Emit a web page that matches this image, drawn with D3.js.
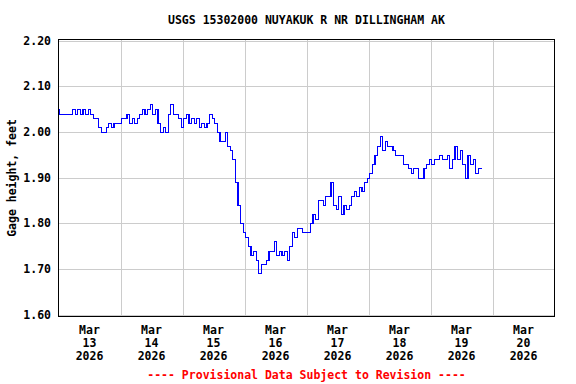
<!DOCTYPE html>
<html lang="en">
<head>
  <meta charset="UTF-8" />
  <title>USGS 15302000 NUYAKUK R NR DILLINGHAM AK</title>
  <style>
    body { margin: 0; background: #fff; }
    svg text {
      font-family: "DejaVu Sans Mono", "Liberation Mono", monospace;
      font-weight: bold;
      font-size: 11.5px;
    }
  </style>
</head>
<body>
  <div id="chart"></div>

  <script src="https://d3js.org/d3.v7.min.js"></script>
  <script>
    // gage height, feet - hourly readings from Mar 13 00:00
    const mar13 = [2.05,2.04,2.04,2.04,2.04,2.04,2.05,2.04,2.05,2.04,2.05,2.04,2.05,2.04,2.03,2.03,2.01,2.00,2.00,2.01,2.02,2.01,2.02,2.02];
    const mar14 = [2.02,2.03,2.03,2.04,2.02,2.03,2.02,2.03,2.04,2.05,2.04,2.05,2.06,2.04,2.05,2.02,2.00,2.01,2.00,2.04,2.06,2.04,2.04,2.03];
    const mar15 = [2.01,2.03,2.04,2.02,2.03,2.02,2.03,2.01,2.02,2.01,2.02,2.04,2.03,2.02,2.00,1.98,1.98,2.00,1.97,1.96,1.94,1.89,1.84,1.80];
    const mar16 = [1.78,1.77,1.75,1.73,1.74,1.72,1.69,1.71,1.71,1.72,1.74,1.74,1.76,1.73,1.74,1.73,1.74,1.72,1.75,1.78,1.77,1.79,1.79,1.78];
    const mar17 = [1.78,1.78,1.80,1.82,1.81,1.85,1.85,1.84,1.86,1.86,1.89,1.84,1.83,1.86,1.82,1.84,1.83,1.84,1.86,1.87,1.86,1.88,1.87,1.89];
    const mar18 = [1.90,1.91,1.93,1.95,1.97,1.99,1.96,1.98,1.97,1.97,1.96,1.95,1.95,1.95,1.93,1.93,1.92,1.91,1.92,1.92,1.90,1.90,1.92,1.93];
    const mar19 = [1.94,1.93,1.94,1.94,1.95,1.94,1.94,1.95,1.92,1.94,1.97,1.94,1.96,1.93,1.90,1.95,1.93,1.94,1.91,1.92,1.92];

    const dayLabels = ['13', '14', '15', '16', '17', '18', '19', '20'];
    const monthLabel = 'Mar';
    const yearLabel = '2026';
    const yTicks = [1.60, 1.70, 1.80, 1.90, 2.00, 2.10, 2.20];

    const title = 'USGS 15302000 NUYAKUK R NR DILLINGHAM AK';
    const yTitle = 'Gage height, feet';
    const footer = '---- Provisional Data Subject to Revision ----';

    const width = 576;
    const height = 384;
    const plotL = 58.5, plotR = 554.5, plotT = 39.5, plotB = 316.5;

    const start = Date.UTC(2026, 2, 13);
    const hour = 3600 * 1000;
    const end = start + 8 * 24 * hour;
    const values = [].concat(mar13, mar14, mar15, mar16, mar17, mar18, mar19);
    const data = values.map((v, i) => ({ t: new Date(start + i * hour), v }));

    const x = d3.scaleUtc()
      .domain([new Date(start), new Date(end)])
      .range([plotL, plotR]);
    const y = d3.scaleLinear()
      .domain([1.60, 2.20])
      .range([314.5, 40.5]);

    const svg = d3.select('#chart')
      .append('svg')
      .attr('width', width)
      .attr('height', height);

    // grid
    const dayBounds = d3.utcDay.range(new Date(start + hour), new Date(end));
    svg.append('g')
      .attr('shape-rendering', 'crispEdges')
      .selectAll('line')
      .data(dayBounds)
      .join('line')
      .attr('x1', d => Math.round(x(d)) + 0.5)
      .attr('x2', d => Math.round(x(d)) + 0.5)
      .attr('y1', plotT)
      .attr('y2', plotB)
      .attr('stroke', '#cccccc');

    svg.append('g')
      .attr('shape-rendering', 'crispEdges')
      .selectAll('line')
      .data(yTicks)
      .join('line')
      .attr('x1', plotL)
      .attr('x2', plotR)
      .attr('y1', d => Math.round(y(d)) + 0.5)
      .attr('y2', d => Math.round(y(d)) + 0.5)
      .attr('stroke', '#cccccc');

    // data line, stepped like the quantized 0.01 ft record
    const line = d3.line()
      .curve(d3.curveStep)
      .x(d => x(d.t))
      .y(d => Math.round(y(d.v)) + 0.5);

    svg.append('path')
      .datum(data)
      .attr('d', line)
      .attr('fill', 'none')
      .attr('stroke', '#0000ff')
      .attr('stroke-width', 1.2)
      .attr('shape-rendering', 'crispEdges');

    // frame
    svg.append('rect')
      .attr('x', plotL)
      .attr('y', plotT)
      .attr('width', plotR - plotL)
      .attr('height', plotB - plotT)
      .attr('fill', 'none')
      .attr('stroke', '#000')
      .attr('shape-rendering', 'crispEdges');

    // y tick labels
    svg.append('g')
      .selectAll('text')
      .data(yTicks)
      .join('text')
      .attr('x', 51)
      .attr('y', d => y(d))
      .attr('dy', '0.35em')
      .attr('text-anchor', 'end')
      .text(d3.format('.2f'));

    // x tick labels (centered on each day)
    const days = d3.utcDay.range(new Date(start), new Date(end));
    const mid = d => x(d3.utcHour.offset(d, 12));
    const xl = svg.append('g')
      .selectAll('text')
      .data(days)
      .join('text')
      .attr('text-anchor', 'middle');
    xl.append('tspan').attr('x', mid).attr('y', 334).text(monthLabel);
    xl.append('tspan').attr('x', mid).attr('y', 347).text((d, i) => dayLabels[i]);
    xl.append('tspan').attr('x', mid).attr('y', 360).text(yearLabel);

    // titles
    svg.append('text')
      .attr('x', (plotL + plotR) / 2)
      .attr('y', 24)
      .attr('text-anchor', 'middle')
      .text(title);

    svg.append('text')
      .attr('transform', `translate(16,${(plotT + plotB) / 2}) rotate(-90)`)
      .attr('text-anchor', 'middle')
      .text(yTitle);

    svg.append('text')
      .attr('x', (plotL + plotR) / 2)
      .attr('y', 379)
      .attr('text-anchor', 'middle')
      .attr('fill', '#ff0000')
      .text(footer);
  </script>
</body>
</html>
